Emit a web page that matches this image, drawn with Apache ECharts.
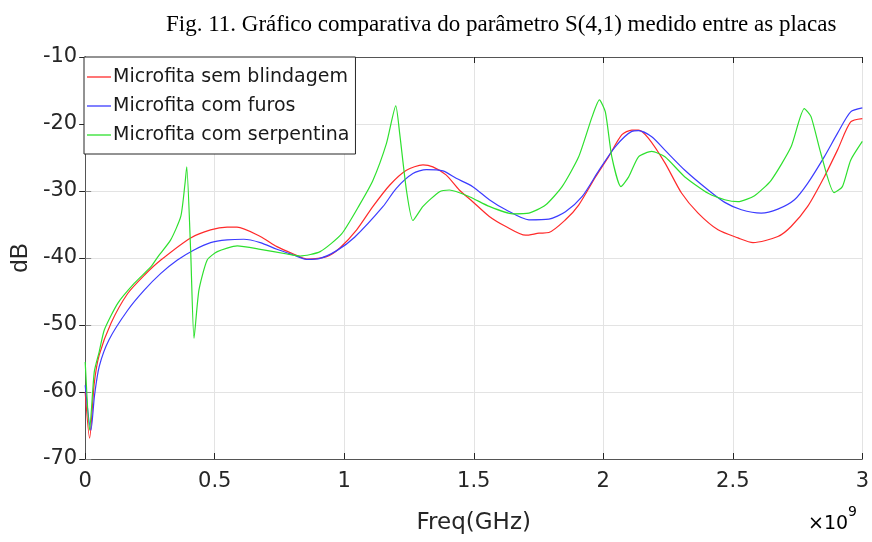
<!DOCTYPE html>
<html>
<head>
<meta charset="utf-8">
<script src="https://cdn.jsdelivr.net/npm/echarts@6/dist/echarts.min.js"></script>
<style>
    html, body { margin: 0; padding: 0; background: #fff; }
    #chart { width: 872px; height: 542px; }
</style>
</head>
<body>
<div id="chart"></div>
<script>
// frequências em GHz (eixo mostrado x10^9), valores em dB
const semFreq = [0, 0.017, 0.035, 0.054, 0.1, 0.164, 0.23, 0.292, 0.407, 0.484, 0.548, 0.586, 0.676, 0.74, 0.804, 0.855, 0.932, 0.983, 1.048, 1.111, 1.176, 1.24, 1.304, 1.342, 1.393, 1.444, 1.496, 1.56, 1.624, 1.7, 1.752, 1.79, 1.854, 1.905, 1.97, 2.02, 2.072, 2.11, 2.136, 2.174, 2.238, 2.302, 2.366, 2.443, 2.52, 2.578, 2.674, 2.725, 2.789, 2.853, 2.904, 2.955, 3.0];
const semDb = [-60, -66.9, -58.7, -54.5, -49.7, -45.3, -42.5, -40.3, -37.0, -35.8, -35.4, -35.4, -36.8, -38.3, -39.4, -40.15, -39.8, -38.5, -35.8, -32.3, -29.1, -26.9, -26.1, -26.4, -27.6, -29.85, -31.6, -33.8, -35.3, -36.6, -36.3, -36.2, -34.3, -32.1, -27.9, -24.9, -21.6, -20.9, -20.9, -22.1, -25.8, -30.3, -33.3, -35.8, -37.0, -37.7, -36.8, -35.3, -32.3, -27.9, -23.9, -19.7, -19.2];

const furosFreq = [0, 0.022, 0.036, 0.054, 0.092, 0.164, 0.228, 0.292, 0.356, 0.42, 0.484, 0.548, 0.612, 0.676, 0.74, 0.804, 0.855, 0.907, 0.971, 1.04, 1.15, 1.201, 1.265, 1.317, 1.381, 1.432, 1.496, 1.56, 1.624, 1.713, 1.79, 1.854, 1.918, 1.982, 2.046, 2.11, 2.136, 2.187, 2.238, 2.315, 2.405, 2.469, 2.533, 2.61, 2.674, 2.738, 2.789, 2.853, 2.904, 2.955, 3.0];
const furosDb = [-59, -65.7, -60.5, -56.2, -52.2, -47.8, -44.8, -42.3, -40.3, -38.8, -37.7, -37.3, -37.2, -37.7, -38.7, -39.55, -40.2, -40.05, -38.9, -36.9, -32.3, -29.6, -27.4, -26.8, -27.0, -28.1, -29.35, -31.3, -32.8, -34.3, -34.2, -33.1, -30.85, -27.0, -23.4, -21.1, -21.0, -21.9, -23.9, -26.9, -29.85, -31.7, -32.8, -33.3, -32.7, -31.3, -28.85, -24.9, -21.4, -18.2, -17.6];

const serpFreq = [0, 0.017, 0.035, 0.054, 0.074, 0.125, 0.189, 0.254, 0.279, 0.33, 0.369, 0.385, 0.392, 0.407, 0.42, 0.439, 0.471, 0.51, 0.587, 0.676, 0.779, 0.83, 0.907, 0.99, 1.06, 1.111, 1.163, 1.199, 1.214, 1.24, 1.265, 1.304, 1.368, 1.406, 1.483, 1.56, 1.649, 1.713, 1.777, 1.841, 1.905, 1.957, 1.985, 2.008, 2.033, 2.068, 2.098, 2.136, 2.187, 2.238, 2.315, 2.405, 2.469, 2.52, 2.584, 2.648, 2.725, 2.776, 2.802, 2.84, 2.891, 2.923, 2.955, 3.0];
const serpDb = [-55.5, -65.7, -57, -54, -50.7, -46.8, -43.8, -41.3, -39.9, -37.3, -33.8, -29, -26.4, -38.8, -52.0, -44.8, -40.3, -39.05, -38.2, -38.7, -39.4, -39.7, -39.05, -36.4, -32, -28.4, -22.9, -17.3, -21.4, -29.85, -34.4, -32.3, -30.1, -29.85, -30.85, -32.3, -33.4, -33.3, -32.1, -29.35, -24.9, -18.9, -16.4, -18.2, -24.9, -29.35, -27.9, -24.9, -24.1, -24.9, -27.9, -30.35, -31.3, -31.6, -30.7, -28.4, -23.4, -17.7, -18.9, -24.4, -30.25, -29.35, -25.4, -22.6];

const xTicks = ['0', '0.5', '1', '1.5', '2', '2.5', '3'];
const yTicks = ['-70', '-60', '-50', '-40', '-30', '-20', '-10'];

function pairs(xs, ys) {
    return xs.map((x, i) => [x, ys[i]]);
}

const sans = 'DejaVu Sans';
const axisColor = '#555';

const chart = echarts.init(document.getElementById('chart'));

chart.setOption({
    animation: false,
    title: {
        text: 'Fig. 11. Gráfico comparativa do parâmetro S(4,1) medido entre as placas',
        left: 161,
        top: 8,
        textStyle: { fontFamily: 'Liberation Serif', fontSize: 23, fontWeight: 'normal', color: '#000' }
    },
    grid: { left: 84, right: 7, top: 57, bottom: 83, containLabel: false },
    legend: {
        orient: 'vertical',
        left: 84,
        top: 57,
        padding: [9, 6, 8, 3],
        itemGap: 7,
        itemWidth: 24,
        itemHeight: 1.3,
        icon: 'rect',
        backgroundColor: '#fff',
        borderColor: '#262626',
        borderWidth: 1,
        borderRadius: 0,
        textStyle: { fontFamily: sans, fontSize: 19, color: '#1a1a1a', lineHeight: 22, padding: [0, 0, 0, -3] },
        data: ['Microfita sem blindagem', 'Microfita com furos', 'Microfita com serpentina']
    },
    xAxis: [{
        type: 'value',
        min: 0, max: 3, interval: 0.5,
        name: 'Freq(GHz)',
        nameLocation: 'middle',
        nameGap: 53,
        nameTextStyle: { fontFamily: sans, fontSize: 23, color: '#262626' },
        axisLine: { lineStyle: { color: axisColor, width: 1 } },
        axisTick: { inside: true, length: 6, lineStyle: { color: '#262626' } },
        axisLabel: {
            fontFamily: sans, fontSize: 21, color: '#262626', margin: 12,
            formatter: (v) => xTicks[Math.round(v / 0.5)]
        },
        splitLine: { show: true, lineStyle: { color: '#e3e3e3', width: 1 } }
    }, {
        type: 'value',
        position: 'top',
        min: 0, max: 3, interval: 0.5,
        axisLine: { lineStyle: { color: axisColor, width: 1 } },
        axisTick: { inside: true, length: 6, lineStyle: { color: '#262626' } },
        axisLabel: { show: false },
        splitLine: { show: false }
    }],
    yAxis: [{
        type: 'value',
        min: -70, max: -10, interval: 10,
        name: 'dB',
        nameLocation: 'middle',
        nameRotate: 90,
        nameGap: 50,
        nameTextStyle: { fontFamily: 'Liberation Sans', fontSize: 24, color: '#262626' },
        axisLine: { show: true, lineStyle: { color: axisColor, width: 1 } },
        axisTick: { show: true, inside: true, length: 6, lineStyle: { color: '#888' } },
        axisLabel: {
            fontFamily: sans, fontSize: 21, color: '#262626', margin: 8,
            formatter: (v) => yTicks[Math.round((v + 70) / 10)]
        },
        splitLine: { show: true, lineStyle: { color: '#e3e3e3', width: 1 } }
    }, {
        type: 'value',
        position: 'right',
        min: -70, max: -10, interval: 10,
        axisLine: { show: true, lineStyle: { color: axisColor, width: 1 } },
        axisTick: { show: true, inside: true, length: 6, lineStyle: { color: '#262626' } },
        axisLabel: { show: false },
        splitLine: { show: false }
    }],
    graphic: [{
        type: 'text',
        left: 808,
        top: 505,
        style: {
            text: '{a|×10}{b|9}',
            rich: {
                a: { fontFamily: sans, fontSize: 19, color: '#262626', padding: [10, 0, 0, 0] },
                b: { fontFamily: sans, fontSize: 14, color: '#262626', verticalAlign: 'top' }
            }
        }
    }],
    series: [{
        name: 'Microfita sem blindagem',
        type: 'line',
        symbol: 'none',
        smooth: 0.25,
        data: pairs(semFreq, semDb),
        lineStyle: { color: '#ff2a2a', width: 1.2 },
        itemStyle: { color: '#ff2a2a' },
        z: 3
    }, {
        name: 'Microfita com furos',
        type: 'line',
        symbol: 'none',
        smooth: 0.25,
        data: pairs(furosFreq, furosDb),
        lineStyle: { color: '#3c3cff', width: 1.2 },
        itemStyle: { color: '#3c3cff' },
        z: 3
    }, {
        name: 'Microfita com serpentina',
        type: 'line',
        symbol: 'none',
        smooth: 0.2,
        data: pairs(serpFreq, serpDb),
        lineStyle: { color: '#2ee02e', width: 1.2 },
        itemStyle: { color: '#2ee02e' },
        z: 3
    }]
});
</script>
</body>
</html>
